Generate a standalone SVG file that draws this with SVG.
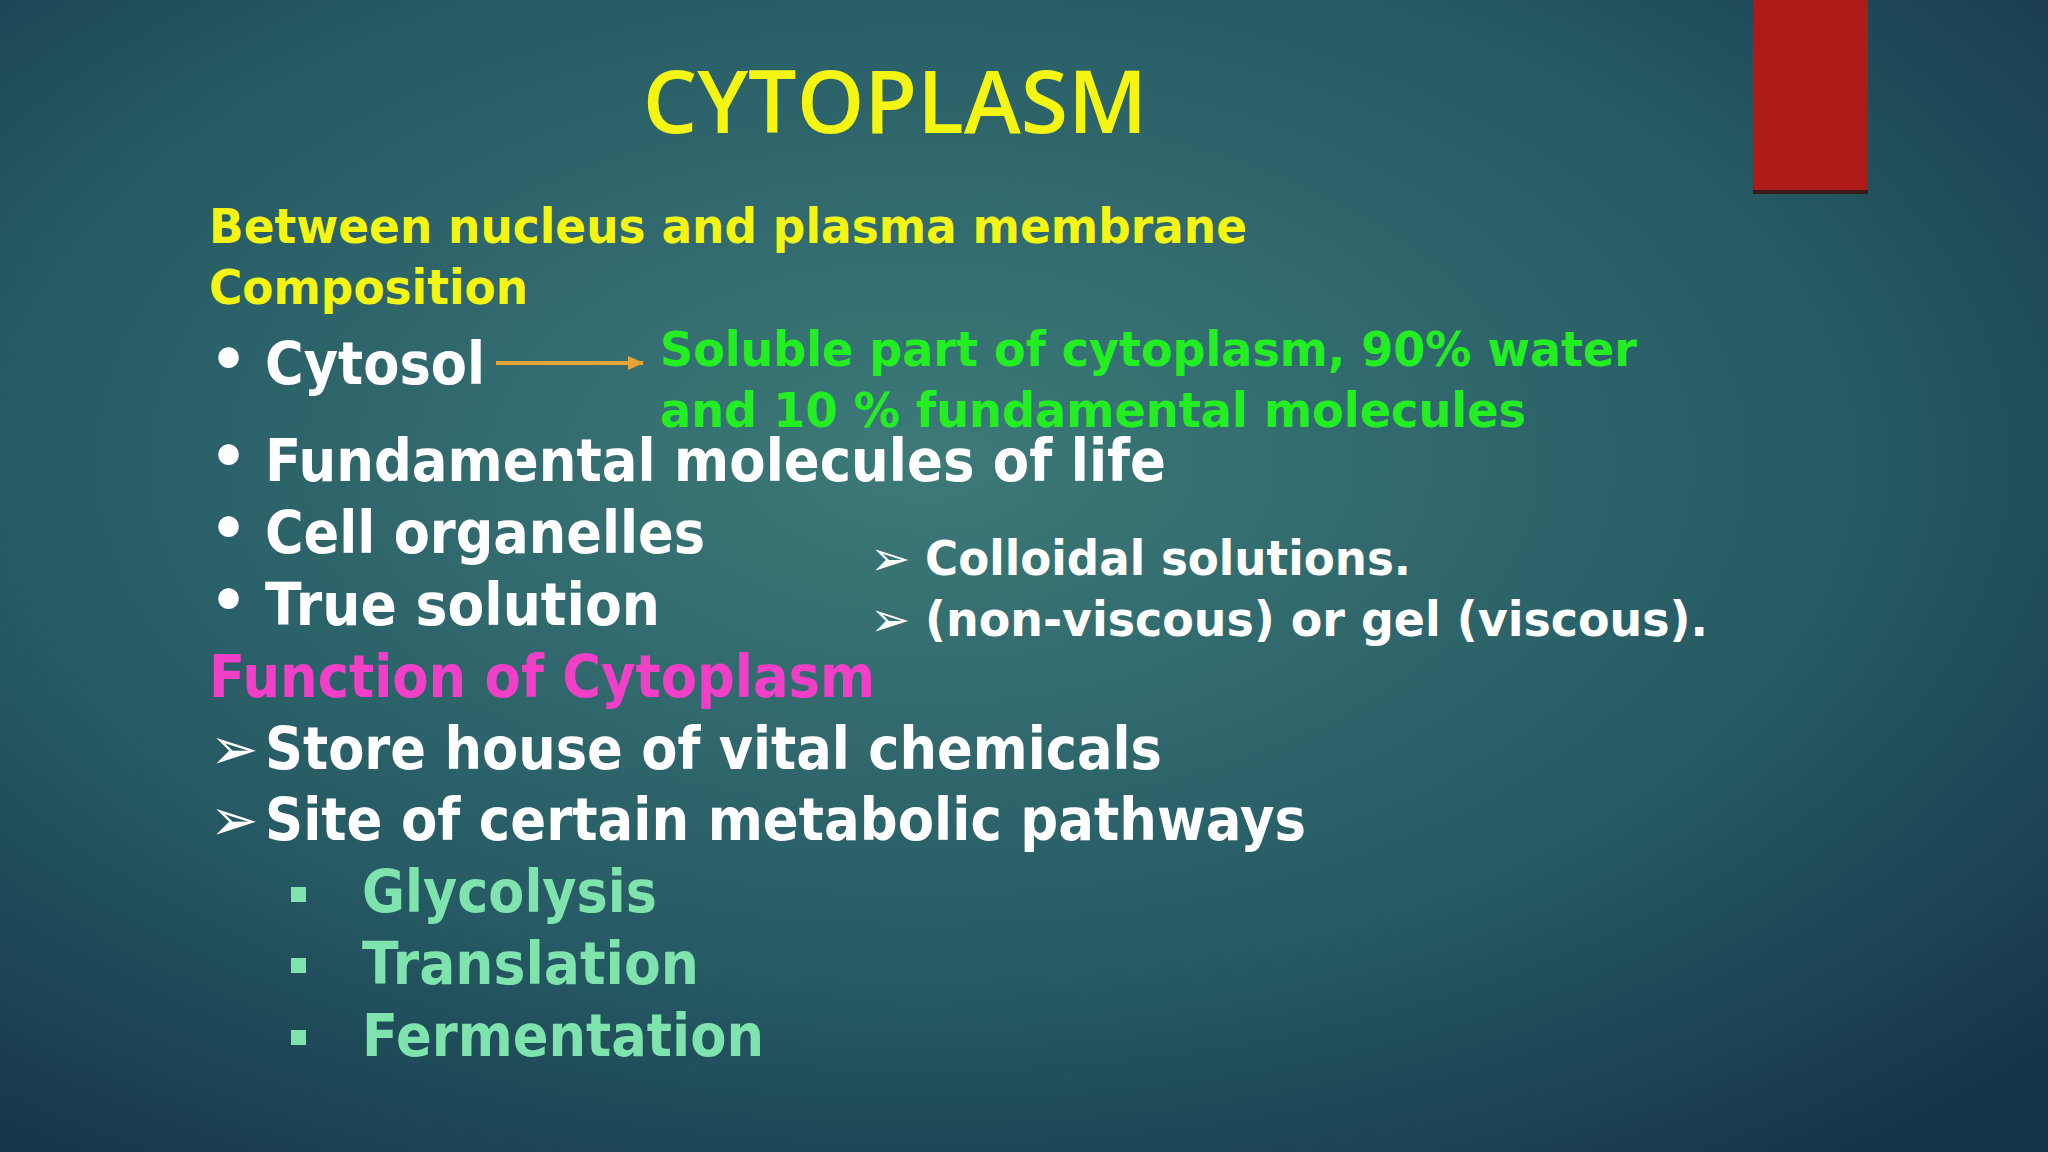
<svg xmlns="http://www.w3.org/2000/svg" width="2048" height="1152" viewBox="0 0 2048 1152">
<style>
text{font-family:"DejaVu Sans","Liberation Sans",sans-serif;font-weight:bold}
.y{fill:#f5f514;font-size:48px}
.w{fill:#ffffff;font-size:58px}
.g{fill:#22ee22;font-size:48px}
.s{fill:#ffffff;font-size:48px}
.m{fill:#7fe3ad;font-size:58px}
</style>
<defs>
<radialGradient id="bg" cx="0.45" cy="0.4" r="0.75">
<stop offset="0" stop-color="#3d7a78"/>
<stop offset="0.6" stop-color="#265a64"/>
<stop offset="1" stop-color="#16354a"/>
</radialGradient>
<marker id="ah" markerWidth="16" markerHeight="16" refX="15" refY="8" orient="auto" markerUnits="userSpaceOnUse"><path d="M0,1 L16,8 L0,15 z" fill="#e6a436"/></marker>
</defs>
<rect width="2048" height="1152" fill="url(#bg)"/>
<rect x="1753" y="0" width="115" height="190" fill="#ad1a18"/>
<rect x="1753" y="190" width="115" height="4" fill="#3a1a18"/>
<text x="895" y="133" text-anchor="middle" style="font-weight:600;font-family:'Open Sans','DejaVu Sans',sans-serif" font-size="86" fill="#f5f514">CYTOPLASM</text>
<text class="y" x="209" y="243" textLength="1038" lengthAdjust="spacingAndGlyphs">Between nucleus and plasma membrane</text>
<text class="y" x="209" y="304" textLength="319" lengthAdjust="spacingAndGlyphs">Composition</text>
<g id="cytosol">
<text class="w" x="210" y="380" font-size="30">•</text>
<text class="w" x="265" y="384" textLength="220" lengthAdjust="spacingAndGlyphs">Cytosol</text>
</g>
<g id="connectors"><line x1="496" y1="363" x2="643" y2="363" stroke="#e6a436" stroke-width="4" marker-end="url(#ah)"/></g>
<g id="soluble">
<text class="g" x="660" y="366" textLength="977" lengthAdjust="spacingAndGlyphs">Soluble part of cytoplasm, 90% water</text>
<text class="g" x="660" y="427" textLength="866" lengthAdjust="spacingAndGlyphs">and 10 % fundamental molecules</text>
</g>
<text class="w" x="210" y="477" font-size="30">•</text>
<text class="w" x="265" y="481" textLength="901" lengthAdjust="spacingAndGlyphs">Fundamental molecules of life</text>
<text class="w" x="210" y="549" font-size="30">•</text>
<text class="w" x="265" y="553" textLength="440" lengthAdjust="spacingAndGlyphs">Cell organelles</text>
<text class="w" x="210" y="621" font-size="30">•</text>
<text class="w" x="265" y="625" textLength="395" lengthAdjust="spacingAndGlyphs">True solution</text>
<text class="s" x="870" y="575" style="font-weight:normal">➢</text>
<text class="s" x="925" y="575" textLength="486" lengthAdjust="spacingAndGlyphs">Colloidal solutions.</text>
<text class="s" x="870" y="636" style="font-weight:normal">➢</text>
<text class="s" x="925" y="636" textLength="783" lengthAdjust="spacingAndGlyphs">(non-viscous) or gel (viscous).</text>
<text x="209" y="697" font-size="58" fill="#f23fc8" textLength="666" lengthAdjust="spacingAndGlyphs">Function of Cytoplasm</text>
<text class="w" x="210" y="769" style="font-weight:normal" font-size="52">➢</text>
<text class="w" x="265" y="769" textLength="897" lengthAdjust="spacingAndGlyphs">Store house of vital chemicals</text>
<text class="w" x="210" y="840" style="font-weight:normal" font-size="52">➢</text>
<text class="w" x="265" y="840" textLength="1041" lengthAdjust="spacingAndGlyphs">Site of certain metabolic pathways</text>
<rect x="291" y="887" width="15" height="15" fill="#7fe3ad"/>
<text class="m" x="362" y="912" textLength="295" lengthAdjust="spacingAndGlyphs">Glycolysis</text>
<rect x="291" y="958" width="15" height="15" fill="#7fe3ad"/>
<text class="m" x="362" y="984" textLength="337" lengthAdjust="spacingAndGlyphs">Translation</text>
<rect x="291" y="1030" width="15" height="15" fill="#7fe3ad"/>
<text class="m" x="362" y="1056" textLength="402" lengthAdjust="spacingAndGlyphs">Fermentation</text>
</svg>
